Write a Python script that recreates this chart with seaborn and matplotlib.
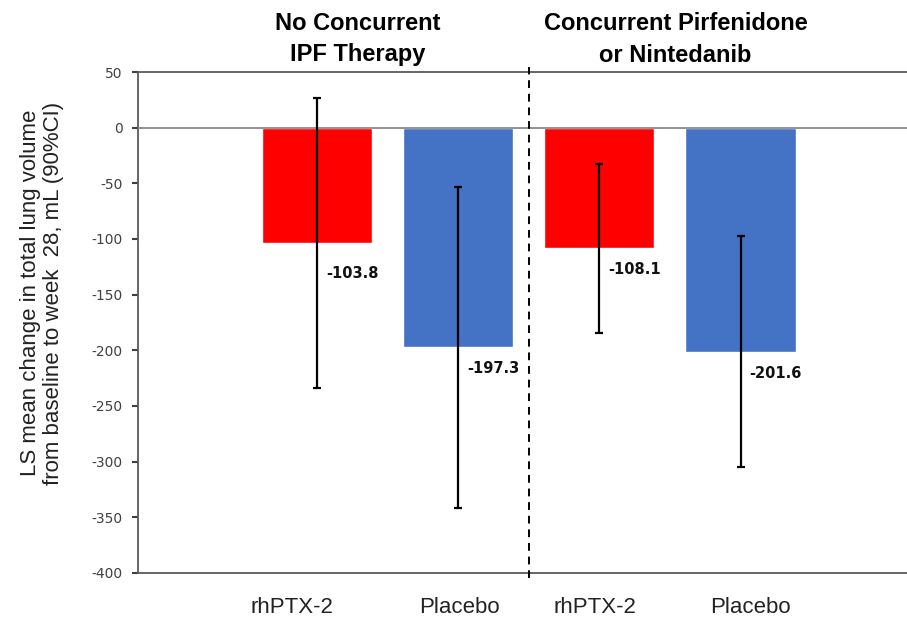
import matplotlib
matplotlib.use("Agg")
import matplotlib.pyplot as plt
import matplotlib.transforms as mtransforms
import seaborn as sns
import pandas as pd
import numpy as np

# ---- data ----
groups = ["No Concurrent\nIPF Therapy", "Concurrent Pirfenidone\nor Nintedanib"]
arms = ["A1", "A2", "B1", "B2"]
treatments = ["rhPTX-2", "Placebo", "rhPTX-2", "Placebo"]
means = [-103.8, -197.3, -108.1, -201.6]
ci_low = [-234.1, -341.2, -184.2, -305.0]
ci_high = [26.9, -53.3, -32.3, -97.2]
yticks = list(range(-400, 51, 50))

df = pd.DataFrame({"arm": arms, "treatment": treatments, "mean": means,
                   "low": ci_low, "high": ci_high})

sns.set_theme(style="white")
plt.rcParams["font.family"] = ["DejaVu Sans"]

W, H = 907, 619
fig = plt.figure(figsize=(W / 100, H / 100), dpi=100)
ax = fig.add_axes([138 / W, 1 - 573 / H, (907 - 138) / W, (573 - 72) / H])

palette = {"rhPTX-2": "#FF0000", "Placebo": "#4472C4"}
sns.barplot(data=df, x="arm", y="mean", hue="treatment", palette=palette,
            dodge=False, errorbar=None, width=0.78, saturation=1,
            legend=False, ax=ax, order=arms)

xpos = np.arange(len(arms))
m = df["mean"].to_numpy()
ax.errorbar(xpos, m, yerr=[m - df["low"].to_numpy(), df["high"].to_numpy() - m],
            fmt="none", ecolor="black", elinewidth=1.6, capsize=2.8, capthick=1.6,
            zorder=5)

ax.set_xlim(-1.27, 4.18)
ax.set_ylim(-400, 50)
ax.set_yticks(yticks)
ax.set_yticklabels([str(v) for v in yticks])
ax.axhline(0, color="#7f7f7f", lw=1.2, zorder=4)

for side in ["left", "top", "bottom"]:
    ax.spines[side].set_visible(True)
    ax.spines[side].set_color("#595959")
    ax.spines[side].set_linewidth(1.3)
ax.spines["right"].set_visible(False)

ax.tick_params(axis="y", which="both", left=True, length=4, width=1.5,
               color="#404040", labelsize=10, labelcolor="#404040", pad=7,
               direction="out")

# x tick labels (slightly offset as in source)
label_shift = [-0.18, 0.01, -0.03, 0.07]
ax.set_xticks(xpos + np.array(label_shift))
ax.set_xticklabels(treatments, fontsize=16, family=["Liberation Sans", "DejaVu Sans"],
                   color="#222222")
ax.tick_params(axis="x", length=0, pad=17)
ax.set_xlabel("")
ax.set_ylabel("")

# dashed divider
ax.plot([1.5, 1.5], [-0.01, 1.01], transform=mtransforms.blended_transform_factory(ax.transData, ax.transAxes),
        color="black", lw=1.4, ls=(0, (4, 3)), clip_on=False, zorder=6)

# value labels
label_dy = [30, 21, 21, 21]
for i, (v, dy) in enumerate(zip(means, label_dy)):
    ax.annotate(f"{v:.1f}", xy=(i, v), xytext=(9, -dy), textcoords="offset pixels",
                ha="left", va="center", fontsize=10.5, fontweight="bold", color="#111111")

# group headers
trans = mtransforms.blended_transform_factory(ax.transData, fig.transFigure)
header_x = [0.29, 2.54]
for hx, g in zip(header_x, groups):
    ax.text(hx, 1 - 39 / H, g, transform=trans, ha="center", va="center",
            fontsize=17, fontweight="bold", linespacing=1.5,
            family=["Liberation Sans", "DejaVu Sans"], color="black")

# y label
fig.text(42 / W, 1 - 293 / H,
         "LS mean change in total lung volume\nfrom baseline to week  28, mL (90%CI)",
         rotation=90, ha="center", va="center", multialignment="center",
         fontsize=16, linespacing=1.15, family=["Liberation Sans", "DejaVu Sans"],
         color="#222222")

fig.savefig("out.png", dpi=100)
